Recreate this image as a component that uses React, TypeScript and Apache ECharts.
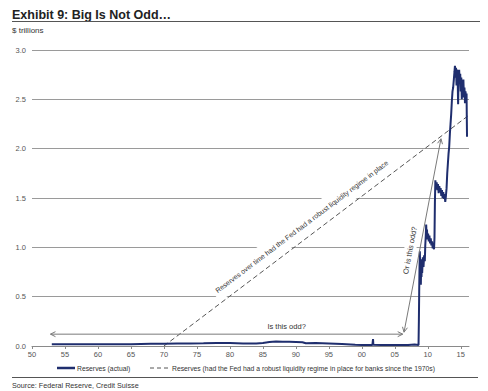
import React, { useEffect, useRef } from "react";
import * as echarts from "echarts";

const titleText = "Exhibit 9: Big Is Not Odd\u2026";
const unitText = "$ trillions";
const sourceText = "Source: Federal Reserve, Credit Suisse";
const seriesNames = [
  "Reserves (actual)",
  "Reserves (had the Fed had a robust liquidity regime in place for banks since the 1970s)",
];

// Reserves (actual), $ trillions
const actualYears = [
  1953.0, 1955.0, 1958.0, 1960.0, 1963.0, 1965.0, 1968.0, 1970.0, 1972.0, 1974.0, 1976.0, 1978.0,
  1980.0, 1982.0, 1984.0, 1985.0, 1986.0, 1987.0, 1988.0, 1989.0, 1990.0, 1991.0, 1991.5, 1993.0,
  1995.0, 1997.0, 1999.0, 2000.0, 2001.6, 2001.7, 2001.75, 2003.0, 2005.0, 2007.0, 2008.0, 2008.6,
  2008.65, 2008.7, 2008.75, 2008.8, 2008.85, 2008.9, 2008.95, 2009.0, 2009.05, 2009.1, 2009.15,
  2009.25, 2009.35, 2009.45, 2009.55, 2009.62, 2009.7, 2009.76, 2009.82, 2009.88, 2009.95, 2010.05,
  2010.15, 2010.25, 2010.35, 2010.45, 2010.55, 2010.65, 2010.75, 2010.85, 2010.95, 2011.02, 2011.08,
  2011.15, 2011.25, 2011.35, 2011.45, 2011.55, 2011.65, 2011.75, 2011.85, 2011.95, 2012.05, 2012.15,
  2012.25, 2012.35, 2012.45, 2012.55, 2012.65, 2012.75, 2012.85, 2012.95, 2013.05, 2013.15, 2013.25,
  2013.35, 2013.45, 2013.55, 2013.65, 2013.75, 2013.85, 2013.95, 2014.05, 2014.12, 2014.2, 2014.28,
  2014.36, 2014.44, 2014.52, 2014.6, 2014.68, 2014.76, 2014.84, 2014.92, 2015.0, 2015.08, 2015.16,
  2015.24, 2015.32, 2015.4, 2015.48, 2015.56, 2015.64, 2015.72, 2015.8, 2015.88, 2015.92, 2015.95,
];
const actualValues = [
  0.019, 0.019, 0.018, 0.017, 0.017, 0.019, 0.022, 0.024, 0.025, 0.026, 0.027, 0.03,
  0.03, 0.025, 0.025, 0.03, 0.04, 0.045, 0.043, 0.042, 0.04, 0.038, 0.028, 0.03,
  0.025, 0.02, 0.012, 0.01, 0.01, 0.07, 0.012, 0.011, 0.01, 0.01, 0.015, 0.01,
  0.25, 0.55, 0.8, 0.96, 0.78, 0.88, 0.62, 0.82, 0.7, 0.88, 0.74,
  0.9, 0.8, 0.92, 0.86, 1.02, 1.12, 1.23, 1.1, 1.18, 1.08, 1.14,
  1.06, 1.12, 1.04, 1.09, 1.02, 1.06, 0.99, 1.03, 0.98, 1.1, 1.45,
  1.68, 1.6, 1.66, 1.58, 1.64, 1.55, 1.62, 1.56, 1.6, 1.52, 1.58,
  1.5, 1.56, 1.49, 1.54, 1.46, 1.52, 1.6, 1.75, 1.85, 1.95, 2.02,
  2.15, 2.25, 2.35, 2.48, 2.58, 2.62, 2.7, 2.78, 2.84, 2.72, 2.82,
  2.64, 2.8, 2.76, 2.45, 2.74, 2.8, 2.66, 2.76, 2.58, 2.72, 2.5,
  2.66, 2.56, 2.7, 2.52, 2.62, 2.46, 2.58, 2.5, 2.56, 2.3, 2.12,
];

// Reserves under a robust liquidity regime since the 1970s
const robustYears = [1970.0, 2016.25];
const robustValues = [0.0, 2.34];

// Annotations (data coordinates)
const isOddArrow = [[1952.8, 0.12], [2006.2, 0.12]];
const orOddArrow = [[2006.4, 0.14], [2012.0, 2.1]];
const isOddLabel = { text: "Is this odd?", at: [1988.6, 0.2] };
const orOddLabel = { text: "Or is this odd?", at: [2007.3, 0.97] };
const robustLabel = {
  text: "Reserves over time had the Fed had a robust liquidity regime in place",
  at: [1990.9, 1.21],
};

const FONT = "'Liberation Sans', Arial, sans-serif";
const NAVY = "#1f2e6e";
const DASH = "#555555";

function chevrons(p0: number[], p1: number[], L: number, W: number) {
  const dx = p1[0] - p0[0];
  const dy = p1[1] - p0[1];
  const len = Math.sqrt(dx * dx + dy * dy) || 1;
  const ux = dx / len;
  const uy = dy / len;
  const nx = -uy;
  const ny = ux;
  const head = (p: number[], sx: number, sy: number) => [
    [p[0] - sx * L + nx * W, p[1] - sy * L + ny * W],
    [p[0], p[1]],
    [p[0] - sx * L - nx * W, p[1] - sy * L - ny * W],
  ];
  return [head(p1, ux, uy), head(p0, -ux, -uy)];
}

export default function App() {
  const ref = useRef<HTMLDivElement>(null);

  useEffect(() => {
    document.body.style.margin = "0";
    if (!ref.current) return;
    const chart = echarts.init(ref.current, undefined, { renderer: "svg" });

    const option: any = {
      animation: false,
      backgroundColor: "#ffffff",
      textStyle: { fontFamily: FONT },
      grid: { left: 32, right: 19, top: 50, bottom: 45, containLabel: false },
      legend: { show: false },
      xAxis: {
        type: "value",
        min: 1950,
        max: 2016.25,
        interval: 5,
        axisLine: { show: true, lineStyle: { color: "#8a8a8a", width: 1 } },
        axisTick: { show: true, length: 3, lineStyle: { color: "#8a8a8a" } },
        splitLine: { show: false },
        axisLabel: {
          fontSize: 7.5,
          color: "#555",
          margin: 4,
          showMaxLabel: false,
          formatter: (v: number) => String(Math.round(v) % 100).padStart(2, "0"),
        },
      },
      yAxis: {
        type: "value",
        min: 0,
        max: 3,
        interval: 0.5,
        axisLine: { show: false },
        axisTick: { show: false },
        splitLine: { show: true, lineStyle: { color: "#9a9a9a", width: 1 } },
        axisLabel: {
          fontSize: 7.5,
          color: "#555",
          margin: 6,
          formatter: (v: number) => v.toFixed(1),
        },
      },
      series: [
        {
          name: seriesNames[0],
          type: "line",
          symbol: "none",
          z: 3,
          lineStyle: { color: NAVY, width: 2 },
          itemStyle: { color: NAVY },
          data: actualYears.map((y, i) => [y, actualValues[i]]),
        },
        {
          name: seriesNames[1],
          type: "line",
          symbol: "none",
          z: 2,
          lineStyle: { color: DASH, width: 1, type: [5, 3] },
          itemStyle: { color: DASH },
          data: robustYears.map((y, i) => [y, robustValues[i]]),
        },
      ],
    };
    chart.setOption(option);

    const px = (p: number[]) => chart.convertToPixel({ gridIndex: 0 }, p) as number[];
    const graphics: any[] = [];

    // Title, subtitle, rules, source
    graphics.push({
      type: "text",
      x: 12,
      y: 15,
      style: { text: titleText, font: `bold 12.5px ${FONT}`, fill: "#222", verticalAlign: "middle" },
    });
    graphics.push({
      type: "line",
      shape: { x1: 12, y1: 21.5, x2: 480, y2: 21.5 },
      style: { stroke: "#555", lineWidth: 1.2 },
    });
    graphics.push({
      type: "text",
      x: 12,
      y: 30,
      style: { text: unitText, font: `8px ${FONT}`, fill: "#333", verticalAlign: "middle" },
    });
    graphics.push({
      type: "line",
      shape: { x1: 12, y1: 377.5, x2: 478, y2: 377.5 },
      style: { stroke: "#555", lineWidth: 1 },
    });
    graphics.push({
      type: "text",
      x: 12,
      y: 385,
      style: { text: sourceText, font: `7.2px ${FONT}`, fill: "#333", verticalAlign: "middle" },
    });

    // Legend (drawn by hand so the keys are plain line samples)
    const legY = 368;
    graphics.push({
      type: "line",
      shape: { x1: 57, y1: legY, x2: 75, y2: legY },
      style: { stroke: NAVY, lineWidth: 2.5 },
    });
    graphics.push({
      type: "text",
      x: 77,
      y: legY,
      style: { text: seriesNames[0], font: `6.8px ${FONT}`, fill: "#333", verticalAlign: "middle" },
    });
    graphics.push({
      type: "line",
      shape: { x1: 150, y1: legY, x2: 170, y2: legY },
      style: { stroke: DASH, lineWidth: 1, lineDash: [4, 3] },
    });
    graphics.push({
      type: "text",
      x: 172,
      y: legY,
      style: { text: seriesNames[1], font: `6.8px ${FONT}`, fill: "#333", verticalAlign: "middle" },
    });

    // Arrows
    [isOddArrow, orOddArrow].forEach((arr) => {
      const a = px(arr[0]);
      const b = px(arr[1]);
      graphics.push({
        type: "line",
        z: 4,
        shape: { x1: a[0], y1: a[1], x2: b[0], y2: b[1] },
        style: { stroke: "#7a7a7a", lineWidth: 1 },
      });
      chevrons(a, b, 5, 2.5).forEach((pts) =>
        graphics.push({
          type: "polyline",
          z: 4,
          shape: { points: pts },
          style: { stroke: "#7a7a7a", lineWidth: 1, fill: null },
        })
      );
    });

    // Labels
    const isP = px(isOddLabel.at);
    graphics.push({
      type: "text",
      z: 4,
      x: isP[0],
      y: isP[1],
      style: {
        text: isOddLabel.text,
        font: `7.5px ${FONT}`,
        fill: "#333",
        align: "center",
        verticalAlign: "middle",
      },
    });
    const orP = px(orOddLabel.at);
    const orA = px(orOddArrow[0]);
    const orB = px(orOddArrow[1]);
    const orAngle = Math.atan2(orA[1] - orB[1], orB[0] - orA[0]);
    graphics.push({
      type: "text",
      z: 1,
      x: orP[0],
      y: orP[1],
      rotation: orAngle,
      style: {
        text: orOddLabel.text,
        font: `7.5px ${FONT}`,
        fill: "#333",
        align: "center",
        verticalAlign: "middle",
        backgroundColor: "#ffffff",
        padding: [2, 2],
      },
    });
    const rP = px(robustLabel.at);
    const r0 = px([robustYears[0], robustValues[0]]);
    const r1 = px([robustYears[1], robustValues[1]]);
    const rAngle = Math.atan2(r0[1] - r1[1], r1[0] - r0[0]);
    graphics.push({
      type: "text",
      z: 1,
      x: rP[0],
      y: rP[1],
      rotation: rAngle,
      style: {
        text: robustLabel.text,
        font: `7px ${FONT}`,
        fill: "#333",
        align: "center",
        verticalAlign: "middle",
        backgroundColor: "#ffffff",
        padding: [7, 3],
      },
    });

    chart.setOption({ graphic: graphics });

    return () => chart.dispose();
  }, []);

  return <div ref={ref} style={{ width: 488, height: 391 }} />;
}
